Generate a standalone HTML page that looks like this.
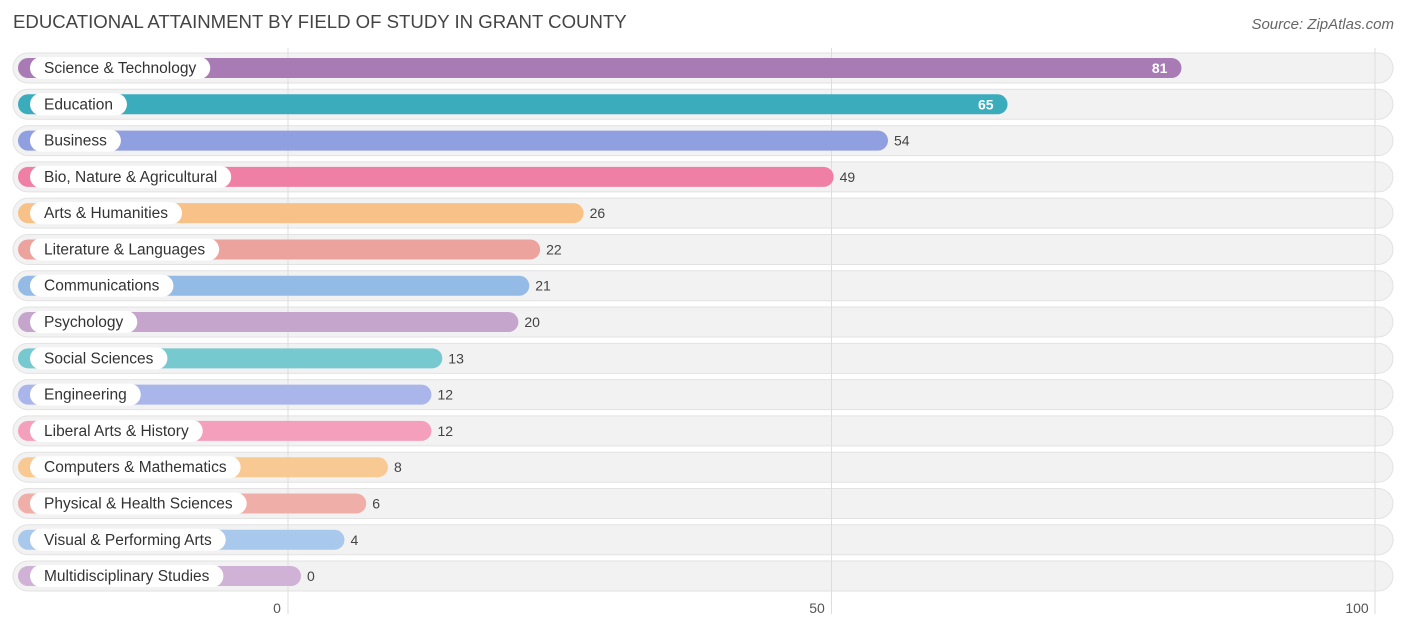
<!DOCTYPE html>
<html><head><meta charset="utf-8"><style>
body{margin:0;width:1406px;height:632px;background:#fff;font-family:"Liberation Sans",sans-serif;overflow:hidden;position:relative}
.t{position:absolute;left:13px;top:11px;font-size:18.6px;color:#444}
.s{position:absolute;right:12px;top:16px;font-size:15px;color:#666;font-style:italic}
</style></head><body>
<div class="t">EDUCATIONAL ATTAINMENT BY FIELD OF STUDY IN GRANT COUNTY</div>
<div class="s">Source: ZipAtlas.com</div>
<svg id="c" width="1406" height="632" style="position:absolute;left:0;top:0"></svg>
<script>
const categories=["Science & Technology","Education","Business","Bio, Nature & Agricultural","Arts & Humanities","Literature & Languages","Communications","Psychology","Social Sciences","Engineering","Liberal Arts & History","Computers & Mathematics","Physical & Health Sciences","Visual & Performing Arts","Multidisciplinary Studies"];
const values=[81,65,54,49,26,22,21,20,13,12,12,8,6,4,0];
const colors=["#a87bb5","#3aacbc","#8f9fe0","#f07fa6","#f8c187","#eca39e","#94bbe6","#c6a5cc","#76c9cf","#aab5ea","#f4a0bd","#f9c993","#f0aea8","#a8c8ec","#d0b2d6"];
const ticks=[0,50,100];
const svg=document.getElementById('c');const NS='http://www.w3.org/2000/svg';
const x=v=>288+v*10.87;const barEnd=v=>x(v)+13;
const y=i=>68+i*36.29;
function mk(t,a,p){const e=document.createElementNS(NS,t);for(const k in a)e.setAttribute(k,a[k]);(p||svg).appendChild(e);return e;}
categories.forEach((c,i)=>{
 const r=mk('rect',{x:13,y:y(i)-15,width:1380,height:30,rx:15,fill:'#f2f2f2',stroke:'#e2e2e2'});
 
 
});
ticks.forEach(t=>{
 const l=mk('line',{x1:x(t),x2:x(t),y1:48,y2:614,stroke:'#ddd'});
 
 
 const tx=mk('text',{x:277+t*10.8,y:613,'text-anchor':'middle','font-size':14,fill:'#555'});tx.textContent=t;
 
 
});
categories.forEach((c,i)=>{
 const v=values[i],yc=y(i);
 const b=mk('rect',{x:18,y:yc-10,width:barEnd(v)-18,height:20,rx:10,fill:colors[i]});
 
 
 const lt=mk('text',{x:44,y:yc+5,'font-size':15.5,fill:'#333'});lt.textContent=c;
 
 
 const w=lt.getComputedTextLength();
 const p=mk('rect',{x:30,y:yc-11,width:w+28,height:22,rx:11,fill:'#fff'});
 
 
 svg.insertBefore(p,lt);
 const inside=v>60;
 const vt=mk('text',{x:inside?barEnd(v)-14:barEnd(v)+6,y:yc+5,'font-size':14,'text-anchor':inside?'end':'start',fill:inside?'#fff':'#444','font-weight':inside?'bold':'normal'});vt.textContent=v;
 
 
});
</script>
</body></html>
